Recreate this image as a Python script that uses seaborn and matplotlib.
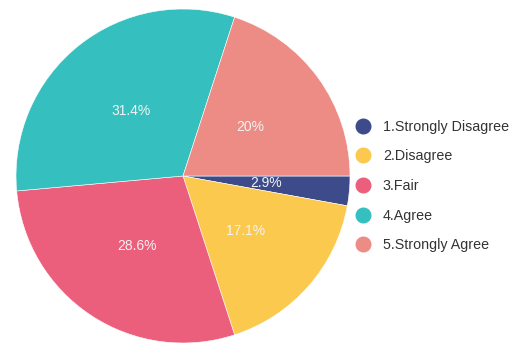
import matplotlib
matplotlib.use("Agg")
import matplotlib.pyplot as plt
from matplotlib.lines import Line2D
import seaborn as sns

# Survey responses
categories = ["1.Strongly Disagree", "2.Disagree", "3.Fair", "4.Agree", "5.Strongly Agree"]
counts = [1, 6, 10, 11, 7]
colors = ["#3e4b8b", "#fcc94f", "#ec5f7c", "#35c0bf", "#ec8c84"]

sns.set_theme(style="white")
plt.rcParams["font.family"] = ["Liberation Sans", "DejaVu Sans"]

fig = plt.figure(figsize=(5.12, 3.45), dpi=100)
cx, cy, r = 183, 176, 167
ax = fig.add_axes([(cx - r) / 512, (345 - cy - r) / 345, 2 * r / 512, 2 * r / 345])


def fmt(p):
    s = f"{p:.1f}"
    if s.endswith(".0"):
        s = s[:-2]
    return s + "%"


wedges, texts, autotexts = ax.pie(
    counts,
    colors=colors,
    startangle=0,
    counterclock=False,
    autopct=fmt,
    pctdistance=0.5,
    radius=1,
    wedgeprops=dict(linewidth=0.4, edgecolor="white"),
    textprops=dict(color="#f2f2f2", fontsize=10),
)
ax.set_xlim(-1, 1)
ax.set_ylim(-1, 1)
ax.set_aspect("equal")
ax.axis("off")

handles = [
    Line2D([0], [0], marker="o", linestyle="", markersize=10.5,
           markerfacecolor=c, markeredgecolor=c)
    for c in colors
]
fig.legend(
    handles, categories,
    loc="center left",
    bbox_to_anchor=(342 / 512, 1 - 186 / 345),
    frameon=False,
    fontsize=10.3,
    labelcolor="#333333",
    handletextpad=0.75,
    labelspacing=1.1,
    handlelength=1.2,
)

fig.savefig("out.png", dpi=100)
